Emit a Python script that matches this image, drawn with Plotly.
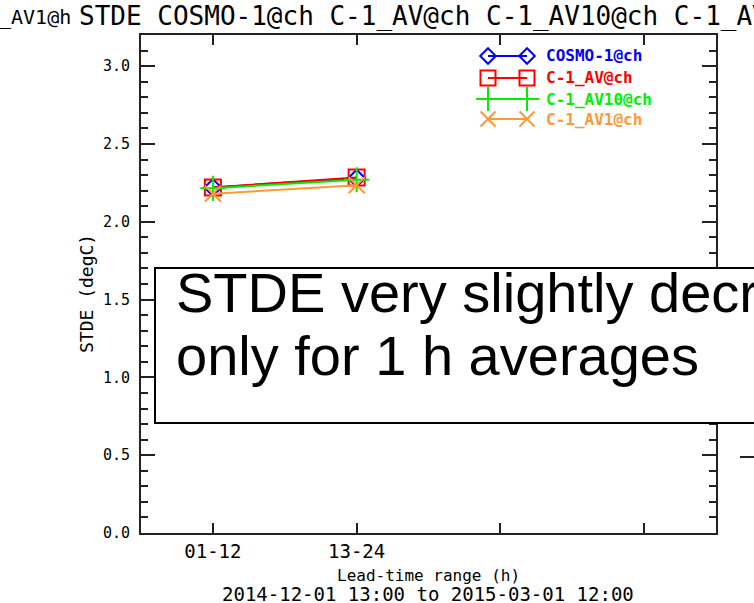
import plotly.graph_objects as go

# ---- data ----
lead_pos = [1, 2]
tick_pos = [1, 2, 3, 4]
tick_labels = ["01-12", "13-24", "", ""]
series_names = ["COSMO-1@ch", "C-1_AV@ch", "C-1_AV10@ch", "C-1_AV1@ch"]
cosmo1 = [2.22, 2.28]
c1_av = [2.22, 2.285]
c1_av10 = [2.215, 2.27]
c1_av1 = [2.18, 2.235]
series_values = [cosmo1, c1_av, c1_av10, c1_av1]
colors = ["#0000ff", "#ff0000", "#00ee00", "#ff9933"]
symbols = ["diamond-open", "square-open", "cross-thin", "x-thin"]
msizes = [13, 16, 18, 16]

title_left = "_AV1@h"
title_rest = "STDE COSMO-1@ch C-1_AV@ch C-1_AV10@ch C-1_AV1@ch"
box_line1 = "STDE very slightly decreases"
box_line2 = "only for 1 h averages"
x_title = "Lead-time range (h)"
date_text = "2014-12-01 13:00 to 2015-03-01 12:00"
y_title = "STDE (degC)"

W, H = 754, 603
L, R, T, B = 141, 716, 35, 533
PW, PH = R - L, B - T

def px(x):
    return (x - L) / PW

def py(y):
    return (B - y) / PH

MONO = "DejaVu Sans Mono"
AX = "#222222"

fig = go.Figure()

draw_order = [0, 1, 2, 3]
for i in draw_order:
    fig.add_trace(go.Scatter(
        x=lead_pos, y=series_values[i], mode="lines+markers",
        line=dict(color=colors[i], width=2),
        marker=dict(symbol=symbols[i], size=msizes[i],
                    line=dict(color=colors[i], width=2), color=colors[i]),
        showlegend=False, name=series_names[i], cliponaxis=False))

# ---- custom legend (two markers per entry, drawn on overlay axes) ----
leg_rows_px = [56, 78, 99, 119]
leg_x_px = [488, 527]
for i in range(4):
    yy = py(leg_rows_px[i])
    fig.add_trace(go.Scatter(
        x=[px(leg_x_px[0]), px(leg_x_px[1])], y=[yy, yy],
        xaxis="x2", yaxis="y2", mode="lines+markers",
        line=dict(color=colors[i], width=2),
        marker=dict(symbol=symbols[i], size=msizes[i] - 1,
                    line=dict(color=colors[i], width=2), color=colors[i]),
        showlegend=False, hoverinfo="skip", cliponaxis=False))
    fig.add_annotation(x=px(544), y=yy, xref="paper", yref="paper",
                       text="<b>" + series_names[i] + "</b>", showarrow=False,
                       xanchor="left", yanchor="middle",
                       font=dict(family=MONO, size=16, color=colors[i]))

axis_common = dict(showline=True, linecolor=AX, linewidth=2, mirror="ticks",
                   ticks="inside", tickcolor=AX, tickwidth=2,
                   showgrid=False, zeroline=False)

fig.update_layout(
    width=W, height=H,
    margin=dict(l=L, r=W - R, t=T, b=H - B),
    paper_bgcolor="white", plot_bgcolor="white",
    xaxis=dict(range=[0.5, 4.5], tickmode="array", tickvals=tick_pos,
               ticktext=tick_labels, ticklen=10,
               tickfont=dict(family=MONO, size=19, color="black"),
               **axis_common),
    yaxis=dict(range=[0, 3.2], tickmode="linear", tick0=0, dtick=0.5,
               tickformat=".1f", ticklen=14,
               tickfont=dict(family=MONO, size=15, color="black"),
               ticklabelstandoff=6,
               minor=dict(dtick=0.1, tick0=0, ticklen=7, ticks="inside",
                          tickcolor=AX, tickwidth=2),
               **axis_common),
    xaxis2=dict(range=[0, 1], overlaying="x", visible=False, fixedrange=True),
    yaxis2=dict(range=[0, 1], overlaying="y", visible=False, fixedrange=True),
)

# title (wider than the figure, clipped at the right side)
fig.add_annotation(x=px(-3), y=py(17), xref="paper", yref="paper",
                   text=title_left, showarrow=False, xanchor="left",
                   yanchor="middle",
                   font=dict(family=MONO, size=20, color="black"))
fig.add_annotation(x=px(77), y=py(17), xref="paper", yref="paper",
                   text=title_rest, showarrow=False, xanchor="left",
                   yanchor="middle",
                   font=dict(family=MONO, size=26, color="black"))

# axis titles
fig.add_annotation(x=px(86), y=py(294), xref="paper", yref="paper",
                   text=y_title, showarrow=False, textangle=-90,
                   xanchor="center", yanchor="middle",
                   font=dict(family=MONO, size=18, color="black"))
fig.add_annotation(x=px(428), y=py(575), xref="paper", yref="paper",
                   text=x_title, showarrow=False, xanchor="center",
                   yanchor="middle",
                   font=dict(family=MONO, size=16, color="black"))
fig.add_annotation(x=px(428), y=py(594), xref="paper", yref="paper",
                   text=date_text, showarrow=False, xanchor="center",
                   yanchor="middle",
                   font=dict(family=MONO, size=19, color="black"))

# comment box
fig.add_shape(type="rect", xref="paper", yref="paper",
              x0=px(155), x1=px(800), y0=py(423), y1=py(268),
              line=dict(color="black", width=2), fillcolor="white",
              layer="above")
fig.add_annotation(x=px(174), y=py(292), xref="paper", yref="paper",
                   text=box_line1, showarrow=False, xanchor="left",
                   yanchor="middle",
                   font=dict(family="Liberation Sans", size=56, color="black"))
fig.add_annotation(x=px(174), y=py(355), xref="paper", yref="paper",
                   text=box_line2, showarrow=False, xanchor="left",
                   yanchor="middle",
                   font=dict(family="Liberation Sans", size=56, color="black"))

# stray line fragment at right edge
fig.add_shape(type="line", xref="paper", yref="paper",
              x0=px(740), x1=px(756), y0=py(457), y1=py(457),
              line=dict(color=AX, width=2))

fig.write_html("out.html")
